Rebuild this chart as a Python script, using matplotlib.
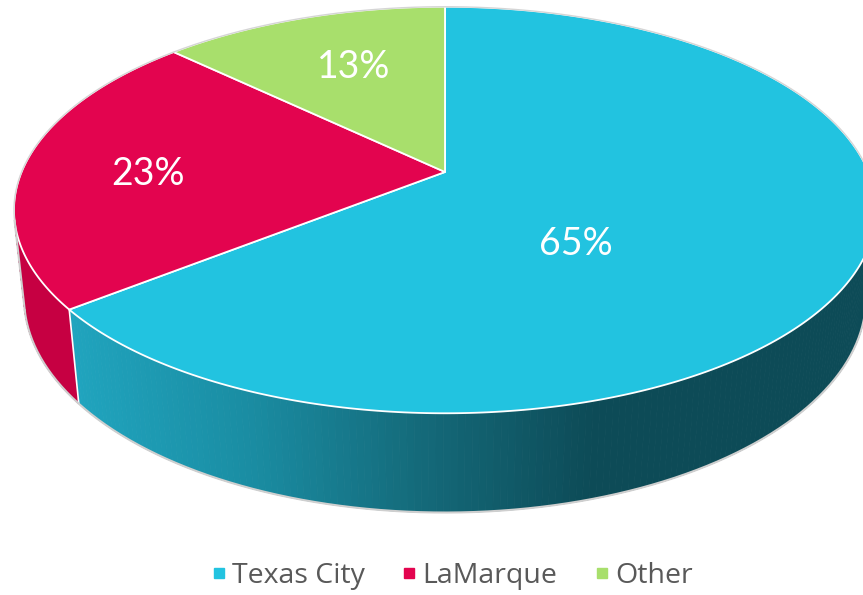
# 3D-пирог: Texas City / LaMarque / Other

import numpy as np
import matplotlib
matplotlib.use('Agg')
import matplotlib.pyplot as plt
from matplotlib.patches import Polygon
from matplotlib.lines import Line2D
from matplotlib.colors import LinearSegmentedColormap

# Данные
categories = ['Texas City', 'LaMarque', 'Other']
values = [65, 23, 13]

# Цвета
top_colors = ['#22C3E0', '#E3044F', '#A8DF6C']
side_colors = ['#1E9BB5', '#C60042', '#86B556']
tc_side_cmap = LinearSegmentedColormap.from_list(
    'tc_side', ['#20A4BE', '#1A8DA3', '#146A7A', '#0D4B57', '#0D4B57'])

# Положение подписей на верхней грани: (угол, радиус)
label_angles = [-50, 181, 112]
label_radii = [0.45, 0.70, 0.64]

# Параметры перспективы
elev = np.radians(27.6)
dist = 4.74
focal = 2007
thick = 0.236
cx, cy = 445, 172


def project(X, Y, Z):
    """Проекция точки пирога (радиус 1) на экран, в пикселях."""
    c, s = np.cos(elev), np.sin(elev)
    ry = Y + dist * c
    rz = Z - dist * s
    yc = ry * s + rz * c
    zc = ry * c - rz * s
    return cx + focal * X / zc, cy - focal * yc / zc


def ring(theta, z):
    x, y = project(np.cos(theta), np.sin(theta), np.full_like(theta, z))
    return np.column_stack([x, y])


fig = plt.figure(figsize=(8.63, 5.95), dpi=100)
ax = fig.add_axes([0, 0, 1, 1])
ax.set_xlim(0, 863)
ax.set_ylim(595, 0)
ax.axis('off')

frac = np.array(values, dtype=float) / sum(values)
bounds = 90 - 360 * np.concatenate([[0], np.cumsum(frac)])

# Видимая часть боковой стенки
a = np.degrees(np.arcsin(1 / (dist * np.cos(elev))))
vis_lo, vis_hi = -180 + a, -a

# Боковые стенки
for i in range(len(values)):
    t_hi = min(bounds[i], vis_hi)
    t_lo = max(bounds[i + 1], vis_lo)
    if t_hi <= t_lo:
        continue
    th = np.radians(np.linspace(t_lo, t_hi, 160))
    top = ring(th, 0)
    bot = ring(th, -thick)
    for k in range(len(th) - 1):
        quad = [top[k], top[k + 1], bot[k + 1], bot[k]]
        if i == 0:
            xm = (top[k, 0] + top[k + 1, 0]) / 2
            col = tc_side_cmap(np.clip((xm - 70) / 700, 0, 1))
        else:
            col = side_colors[i]
        ax.add_patch(Polygon(quad, closed=True, facecolor=col,
                             edgecolor=col, lw=0.6))

# Граница между стенками
for b in bounds[1:-1]:
    if vis_lo < b < vis_hi:
        th = np.radians([b])
        p1 = ring(th, 0)[0]
        p2 = ring(th, -thick)[0]
        ax.plot([p1[0], p2[0]], [p1[1], p2[1]], color='white', lw=1.2)

# Серый контур: низ и вертикальные края
th = np.radians(np.linspace(vis_lo, vis_hi, 300))
bot = ring(th, -thick)
ax.plot(bot[:, 0], bot[:, 1], color='#CFCFCF', lw=1.5)
for t in (vis_lo, vis_hi):
    p1 = ring(np.radians([t]), 0)[0]
    p2 = ring(np.radians([t]), -thick)[0]
    ax.plot([p1[0], p2[0]], [p1[1], p2[1]], color='#CFCFCF', lw=1.5)

# Верхняя грань
apex = project(0.0, 0.0, 0.0)
for i in range(len(values)):
    th = np.radians(np.linspace(bounds[i], bounds[i + 1], 300))
    pts = np.vstack([[apex], ring(th, 0)])
    ax.add_patch(Polygon(pts, closed=True, facecolor=top_colors[i],
                         edgecolor='white', lw=1.3, joinstyle='round'))

# Серый контур сверху (задняя часть)
th = np.radians(np.linspace(vis_hi, vis_lo + 360, 400))
back = ring(th, 0)
ax.plot(back[:, 0], back[:, 1], color='#D5D5D5', lw=1.0)

# Подписи процентов
for v, ang, r in zip(values, label_angles, label_radii):
    t = np.radians(ang)
    x, y = project(r * np.cos(t), r * np.sin(t), 0.0)
    ax.text(x, y, f'{v}%', color='white', fontsize=27, family='Lato',
            ha='center', va='center')

# Легенда
handles = [Line2D([], [], marker='s', linestyle='none', markersize=7,
                  markerfacecolor=c, markeredgecolor=c) for c in top_colors]
fig.legend(handles, categories, loc='center', bbox_to_anchor=(0.524, 0.032),
           ncol=3, frameon=False, labelcolor='#595959',
           prop={'family': 'Open Sans', 'size': 20.5},
           handletextpad=0.22, columnspacing=1.3, handlelength=0.5)

fig.savefig('out.png', dpi=100)
